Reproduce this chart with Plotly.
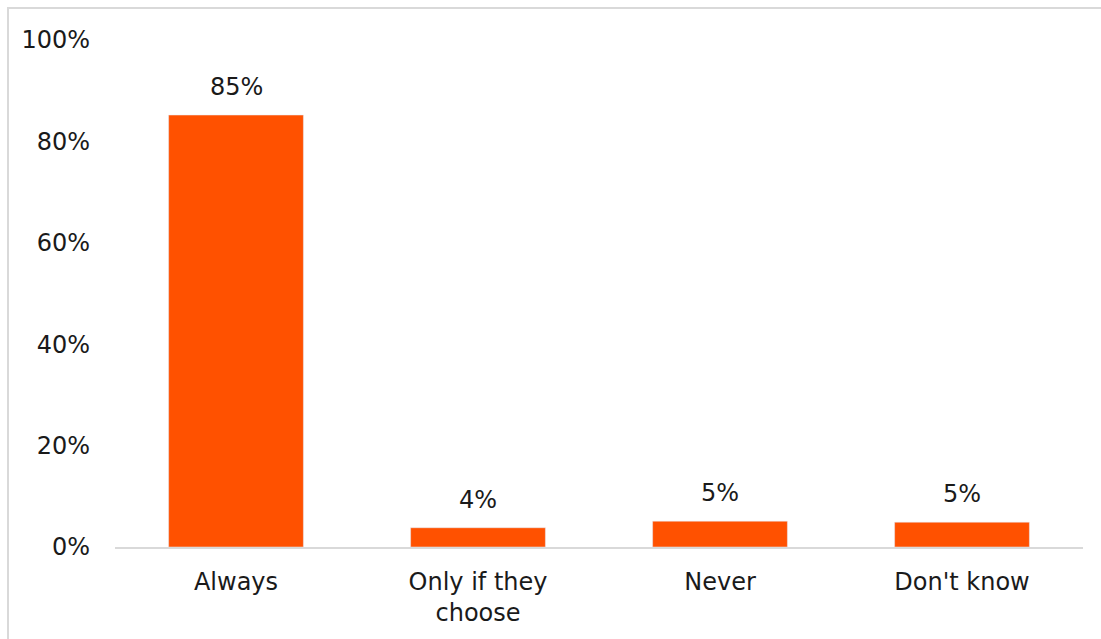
import plotly.graph_objects as go

categories = ["Always", "Only if they<br>choose", "Never", "Don't know"]
values = [0.852, 0.038, 0.051, 0.049]
labels = ["85%", "4%", "5%", "5%"]
tick_vals = [0, 0.2, 0.4, 0.6, 0.8, 1.0]
tick_text = ["0%", "20%", "40%", "60%", "80%", "100%"]

FONT = "DejaVu Sans"
TXT = "#1a1a1a"
W, H = 1101, 639
ml, mr, mt, mb = 115, 18, 40, 92

fig = go.Figure(go.Bar(
    x=categories, y=values, marker_color="#FF5100", width=0.557,
    hoverinfo="skip",
))

for c, v, t in zip(categories, values, labels):
    fig.add_annotation(x=c, y=v, text=t, showarrow=False, yanchor="bottom",
                       yshift=12, font=dict(family=FONT, size=24, color=TXT))

pw = W - ml - mr
ph = H - mt - mb
fig.add_shape(type="rect", xref="paper", yref="paper",
              x0=(8 - ml) / pw, x1=(W + 20 - ml) / pw,
              y0=-(H + 20 - mt - ph) / ph, y1=(ph + mt - 8) / ph,
              line=dict(color="#d9d9d9", width=2), fillcolor="rgba(0,0,0,0)", layer="below")

fig.update_layout(
    width=W, height=H, margin=dict(l=ml, r=mr, t=mt, b=mb),
    paper_bgcolor="white", plot_bgcolor="white", showlegend=False,
    font=dict(family=FONT, size=24, color=TXT),
    bargap=0.443,
)
fig.update_xaxes(showline=True, linecolor="#d9d9d9", linewidth=2, ticks="",
                 showgrid=False, ticklabelstandoff=12, tickfont=dict(size=24))
fig.update_yaxes(range=[0, 1], tickvals=tick_vals, ticktext=tick_text, showgrid=False,
                 zeroline=False, showline=False, ticks="", ticklabelstandoff=24,
                 tickfont=dict(size=24))

fig.write_html("out.html")
